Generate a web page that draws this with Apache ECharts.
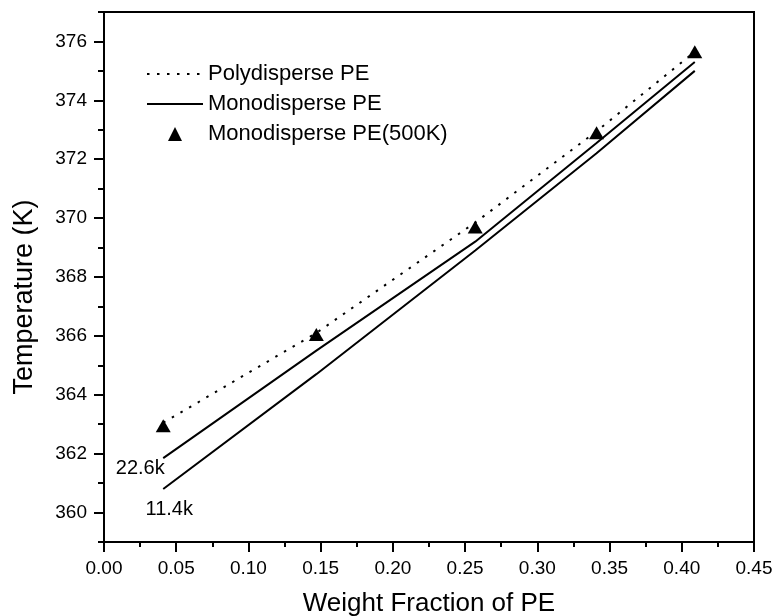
<!DOCTYPE html>
<html lang="en">
<head>
    <title>Temperature vs weight fraction</title>
    <meta charset="utf-8">
    <script src="https://cdn.jsdelivr.net/npm/echarts@6/dist/echarts.min.js"></script>
    <style>
        html, body { margin: 0; padding: 0; background: #fff; }
        #chart { width: 774px; height: 616px; }
    </style>
</head>
<body>
<div id="chart"></div>
<script type="text/javascript">
    // weight fraction of PE where the curves are sampled
    var xPts = [0.041, 0.147, 0.257, 0.341, 0.409];
    // temperatures (K)
    var poly = [363.05, 366.1, 369.85, 372.95, 375.65];
    var mono226 = [361.85, 365.5, 369.2, 372.55, 375.3];
    var mono114 = [360.8, 364.7, 368.9, 372.2, 375.0];
    var mono500 = [362.95, 366.05, 369.7, 372.9, 375.65];
    var yMajor = [360, 362, 364, 366, 368, 370, 372, 374, 376];
    var curveLabels = ['22.6k', '11.4k'];

    var font = "'Liberation Sans', Arial, sans-serif";

    function pairs(ys) {
        return xPts.map(function (x, i) { return [x, ys[i]]; });
    }

    // first point of each mono curve carries its molecular weight label
    var d226 = pairs(mono226);
    d226[0] = {
        value: d226[0],
        label: { show: true, formatter: curveLabels[0], position: 'inside', offset: [-23, 10] }
    };
    var d114 = pairs(mono114);
    d114[0] = {
        value: d114[0],
        label: { show: true, formatter: curveLabels[1], position: 'inside', offset: [6, 20] }
    };

    var curveLabel = { color: '#000', fontFamily: font, fontSize: 20 };
    var noMark = { opacity: 0 };

    var myChart = echarts.init(document.getElementById('chart'));
    var option = {
        animation: false,
        textStyle: { fontFamily: font, color: '#000' },
        grid: {
            left: 104, right: 20, top: 12, bottom: 74,
            outerBoundsMode: 'none',
            containLabel: false,
            show: true, borderColor: '#000', borderWidth: 2
        },
        legend: {
            orient: 'vertical',
            left: 141,
            top: 58,
            itemWidth: 56,
            itemHeight: 14,
            itemGap: 8,
            textStyle: { fontFamily: font, fontSize: 22, color: '#000' },
            data: [
                { name: 'Polydisperse PE', itemStyle: noMark },
                { name: 'Monodisperse PE', itemStyle: noMark },
                { name: 'Monodisperse PE(500K)', icon: 'path://M0,-1L1,1L-1,1Z' }
            ]
        },
        xAxis: {
            type: 'value',
            min: 0,
            max: 0.45,
            interval: 0.05,
            name: 'Weight Fraction of PE',
            nameLocation: 'middle',
            nameGap: 49,
            nameTextStyle: { fontFamily: font, fontSize: 26, color: '#000' },
            axisLine: { lineStyle: { color: '#000', width: 2 } },
            axisTick: { length: 10, lineStyle: { color: '#000', width: 2 } },
            minorTick: { show: true, splitNumber: 2, length: 5, lineStyle: { color: '#000', width: 2 } },
            axisLabel: {
                margin: 17, fontSize: 19, color: '#000', fontFamily: font,
                formatter: function (v) { return v.toFixed(2); }
            },
            splitLine: { show: false }
        },
        yAxis: [{
            type: 'value',
            min: 359,
            max: 377,
            name: 'Temperature (K)',
            nameLocation: 'middle',
            nameGap: 66,
            nameTextStyle: { fontFamily: font, fontSize: 27, color: '#000', padding: [0, 40, 0, 0] },
            axisLine: { show: true, lineStyle: { color: '#000', width: 2 } },
            axisTick: { length: 10, customValues: yMajor, lineStyle: { color: '#000', width: 2 } },
            axisLabel: { margin: 17, fontSize: 19, color: '#000', fontFamily: font, customValues: yMajor },
            splitLine: { show: false }
        }, {
            // minor ticks every 1 K
            type: 'value',
            min: 359,
            max: 377,
            interval: 1,
            position: 'left',
            axisLine: { show: false },
            axisTick: { show: true, length: 6, lineStyle: { color: '#000', width: 2 } },
            axisLabel: { show: false },
            splitLine: { show: false }
        }],
        series: [
            {
                name: 'Polydisperse PE',
                type: 'line',
                symbol: 'none',
                data: pairs(poly),
                lineStyle: { color: '#000', width: 2, type: [2.5, 7.5] },
                itemStyle: { color: '#000' }
            },
            {
                name: 'Monodisperse PE',
                type: 'line',
                symbol: 'circle',
                symbolSize: 0,
                showSymbol: true,
                data: d226,
                label: curveLabel,
                lineStyle: { color: '#000', width: 2 },
                itemStyle: { color: '#000' }
            },
            {
                name: 'Monodisperse PE',
                type: 'line',
                symbol: 'circle',
                symbolSize: 0,
                showSymbol: true,
                data: d114,
                label: curveLabel,
                lineStyle: { color: '#000', width: 2 },
                itemStyle: { color: '#000' }
            },
            {
                name: 'Monodisperse PE(500K)',
                type: 'scatter',
                symbol: 'triangle',
                symbolSize: [15, 13],
                data: pairs(mono500),
                itemStyle: { color: '#000', opacity: 1 }
            }
        ]
    };
    myChart.setOption(option);
</script>
</body>
</html>
